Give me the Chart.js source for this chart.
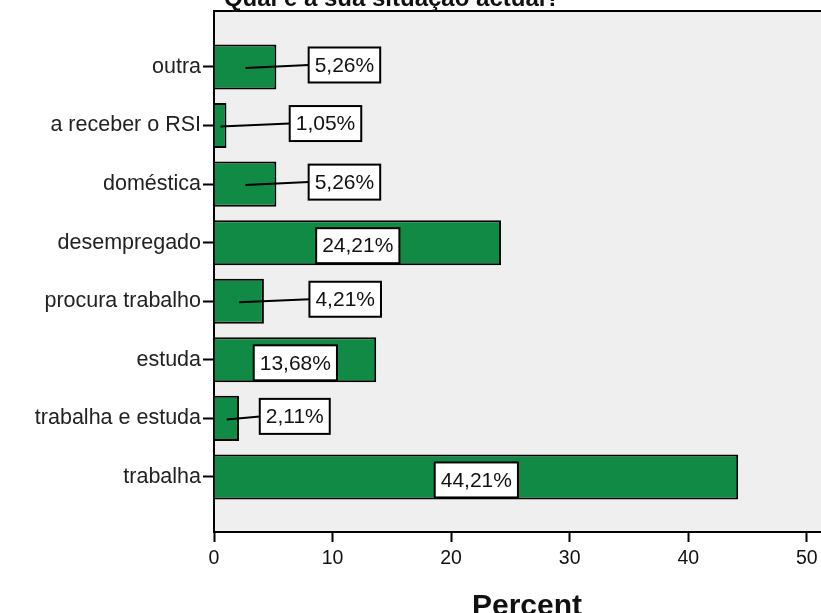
<!DOCTYPE html>
<html>
<head>
<meta charset="utf-8">
<script src="https://cdn.jsdelivr.net/npm/chart.js@4/dist/chart.umd.min.js"></script>
<style>
  html, body { margin: 0; padding: 0; overflow: hidden; background: #fff; }
  #wrap { position: relative; width: 846px; height: 613px; }
</style>
</head>
<body>
<div id="wrap"><canvas id="chart"></canvas></div>
<script>
const categories = ["outra", "a receber o RSI", "doméstica", "desempregado",
  "procura trabalho", "estuda", "trabalha e estuda", "trabalha"];
const percents = [5.26, 1.05, 5.26, 24.21, 4.21, 13.68, 2.11, 44.21];
const xTicks = [0, 10, 20, 30, 40, 50];

const FONT = "'Liberation Sans', Arial, sans-serif";

// plot background + frame
const frame = {
  id: "frame",
  beforeDatasetsDraw(chart) {
    const { ctx, chartArea: a } = chart;
    ctx.save();
    ctx.fillStyle = "#efefef";
    ctx.fillRect(a.left, a.top, a.right - a.left, a.bottom - a.top);
    ctx.strokeStyle = "#000";
    ctx.lineWidth = 2;
    ctx.strokeRect(a.left, a.top, a.right - a.left, a.bottom - a.top);
    ctx.restore();
  },
  // title sits mostly above the window, only its bottom shows
  afterDraw(chart) {
    const ctx = chart.ctx;
    ctx.save();
    ctx.font = "bold 24px " + FONT;
    ctx.fillStyle = "#111";
    ctx.textAlign = "center";
    ctx.textBaseline = "alphabetic";
    ctx.fillText("Qual é a sua situação actual?", 392, 6);
    ctx.restore();
  }
};

// boxed value labels, with leader lines for short bars
const boxLabels = {
  id: "boxLabels",
  afterDatasetsDraw(chart, args, opts) {
    const { ctx } = chart;
    const meta = chart.getDatasetMeta(0);
    ctx.save();
    ctx.font = "21px " + FONT;
    meta.data.forEach((bar, i) => {
      const txt = percents[i].toFixed(2).replace(".", ",") + "%";
      const w = ctx.measureText(txt).width + 12;
      const h = 35;
      const mid = (bar.base + bar.x) / 2;
      const shift = opts.shift[i];
      let cx = mid, cy = bar.y + 3;
      if (shift) {
        cx = mid + shift;
        cy = bar.y - 2;
        ctx.strokeStyle = "#000";
        ctx.lineWidth = 2;
        ctx.beginPath();
        ctx.moveTo(mid, bar.y + 1);
        ctx.lineTo(cx - w / 2, cy);
        ctx.stroke();
      }
      ctx.fillStyle = "#fff";
      ctx.fillRect(cx - w / 2, cy - h / 2, w, h);
      ctx.strokeStyle = "#000";
      ctx.lineWidth = 2;
      ctx.strokeRect(cx - w / 2, cy - h / 2, w, h);
      ctx.fillStyle = "#111";
      ctx.textAlign = "center";
      ctx.textBaseline = "middle";
      ctx.fillText(txt, cx, cy + 1);
    });
    ctx.restore();
  }
};

new Chart(document.getElementById("chart"), {
  type: "bar",
  data: {
    datasets: [{
      data: percents.map((v, i) => ({ x: v, y: i })),
      backgroundColor: "#118a45",
      borderColor: "#000",
      borderWidth: 2,
      categoryPercentage: 0.77,
      barPercentage: 1
    }]
  },
  options: {
    indexAxis: "y",
    responsive: true,
    maintainAspectRatio: false,
    animation: false,
    layout: { padding: { top: 11, left: 0, right: 6, bottom: 0 } },
    plugins: {
      legend: { display: false },
      tooltip: { enabled: false },
      boxLabels: { shift: [99, 105, 99, 0, 106, 0, 68, 0] }
    },
    scales: {
      x: {
        type: "linear",
        min: 0,
        max: 52.8,
        afterBuildTicks: (s) => { s.ticks = xTicks.map(v => ({ value: v })); },
        afterFit: (s) => { s.height = 81; s.paddingLeft = 0; s.paddingRight = 0; },
        grid: { drawOnChartArea: false, tickLength: 10, tickWidth: 2, tickColor: "#000" },
        border: { display: true, color: "#000", width: 2 },
        ticks: { font: { family: FONT, size: 19.5 }, color: "#111", padding: 5 },
        title: {
          display: true,
          text: "Percent",
          font: { family: FONT, size: 30, weight: "bold" },
          color: "#111",
          padding: { top: 0, bottom: -12 }
        }
      },
      y: {
        type: "linear",
        reverse: true,
        offset: false,
        min: -0.956,
        max: 7.94,
        afterBuildTicks: (s) => { s.ticks = categories.map((c, i) => ({ value: i })); },
        afterFit: (s) => { s.width = 214; s.paddingTop = 0; s.paddingBottom = 0; },
        grid: { offset: false, drawOnChartArea: false, tickLength: 11, tickWidth: 2, tickColor: "#000" },
        border: { display: true, color: "#000", width: 2 },
        ticks: {
          font: { family: FONT, size: 21.5 },
          color: "#222",
          padding: 2,
          callback: (v) => categories[v]
        }
      }
    }
  },
  plugins: [frame, boxLabels]
});
</script>
</body>
</html>
